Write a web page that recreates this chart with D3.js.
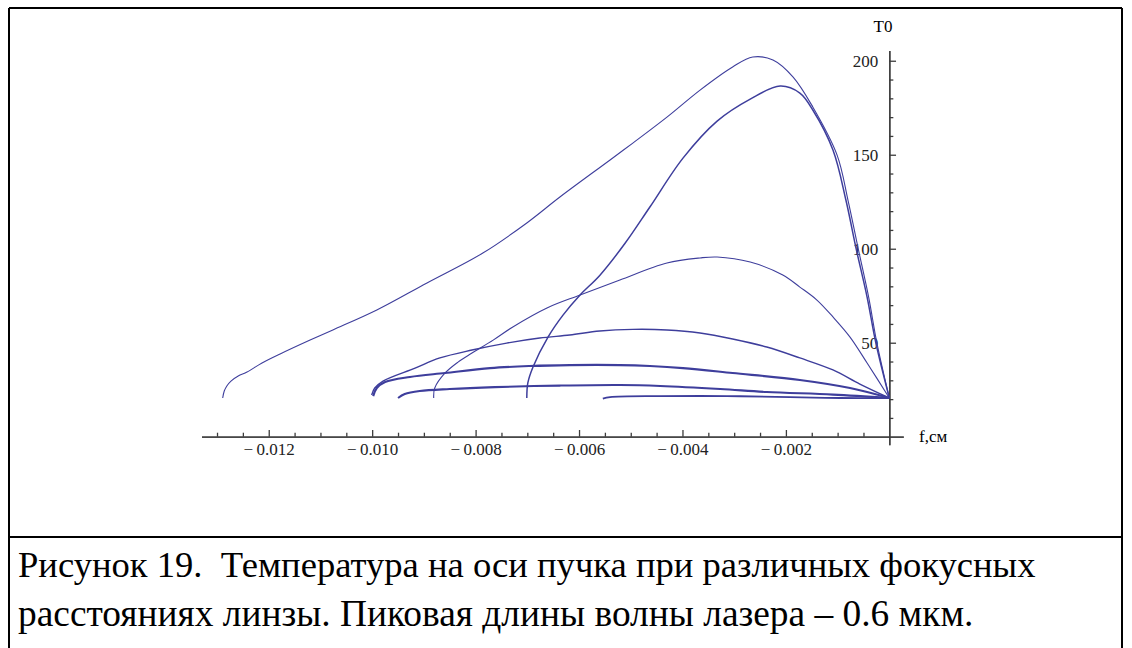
<!DOCTYPE html>
<html>
<head>
<meta charset="UTF-8">
<script src="https://cdn.jsdelivr.net/npm/d3@7"></script>
</head>
<body style="margin:0">
<script>
// значения: [f, см ; T0]
var curve1 = [[-0.01289,20.6],[-0.01286,24.3],[-0.01281,27.0],[-0.01273,29.6],[-0.01259,32.3],[-0.01242,34.4],
  [-0.01213,39.2],[-0.01178,44.0],[-0.01120,51.4],[-0.01076,56.8],[-0.00991,67.4],[-0.00894,81.8],[-0.00786,97.7],
  [-0.00701,113.7],[-0.00637,127.5],[-0.00540,147.2],[-0.00496,156.2],[-0.00430,170.0],[-0.00366,184.4],[-0.00303,196.7],
  [-0.00264,202.0],[-0.00225,200.4],[-0.00186,191.3],[-0.00148,175.4],[-0.00101,149.8],[-0.00080,125.9],[-0.00060,99.8],
  [-0.00040,74.3],[-0.00024,49.8],[0,20.6]];
var curve2 = [[-0.00701,20.6],[-0.00699,28.6],[-0.00689,37.1],[-0.00660,53.0],[-0.00631,64.7],[-0.00598,75.4],
  [-0.00560,85.8],[-0.00511,102.9],[-0.00463,122.2],[-0.00399,148.2],[-0.00333,167.9],[-0.00269,179.6],[-0.00211,186.5],
  [-0.00173,182.8],[-0.00148,173.8],[-0.00109,152.5],[-0.00084,125.9],[-0.00064,99.8],[-0.00043,74.3],[-0.00026,49.8],[0,20.6]];
var curve3 = [[-0.00881,20.6],[-0.00879,25.9],[-0.00859,33.9],[-0.00834,39.7],[-0.00807,44.5],[-0.00766,51.4],
  [-0.00728,58.4],[-0.00662,68.5],[-0.00598,75.4],[-0.00521,83.4],[-0.00430,92.4],[-0.00366,95.1],[-0.00333,95.6],
  [-0.00269,92.9],[-0.00206,86.0],[-0.00173,79.6],[-0.00140,72.7],[-0.00109,63.7],[-0.00076,53.0],[-0.00043,39.2],[0,20.6]];
var curve4 = [[-0.01001,22.2],[-0.00995,25.9],[-0.00979,29.6],[-0.00917,36.5],[-0.00869,41.9],[-0.00807,46.1],
  [-0.00740,49.8],[-0.00676,52.5],[-0.00618,54.1],[-0.00560,56.2],[-0.00496,57.1],[-0.00430,56.8],[-0.00366,55.2],
  [-0.00303,52.0],[-0.00237,47.7],[-0.00173,41.9],[-0.00109,35.5],[-0.00057,28.0],[0,20.6]];
var curve5 = [[-0.00998,21.6],[-0.00991,25.9],[-0.00975,29.1],[-0.00927,31.8],[-0.00859,33.9],[-0.00772,36.5],
  [-0.00695,37.6],[-0.00618,38.1],[-0.00521,38.1],[-0.00463,37.6],[-0.00399,36.5],[-0.00303,33.9],[-0.00173,30.2],
  [-0.00076,25.9],[0,20.6]];
var curve6 = [[-0.00950,20.6],[-0.00937,22.7],[-0.00908,24.3],[-0.00850,25.4],[-0.00763,26.4],[-0.00637,27.2],
  [-0.00521,27.5],[-0.00443,27.0],[-0.00327,25.4],[-0.00237,23.8],[-0.00109,22.4],[0,20.6]];
var curve7 = [[-0.00554,20.3],[-0.00540,21.1],[-0.00444,21.6],[-0.00314,21.6],[-0.00192,21.1],[-0.00095,20.6],[0,20.6]];

var curves = [curve1, curve2, curve3, curve4, curve5, curve6, curve7];
var curveWidths = [1.1, 1.5, 1.1, 1.4, 2.1, 2.1, 1.8];

var xMajor = [-0.012, -0.010, -0.008, -0.006, -0.004, -0.002];
var xLabels = ["\u2212\u20090.012", "\u2212\u20090.010", "\u2212\u20090.008", "\u2212\u20090.006", "\u2212\u20090.004", "\u2212\u20090.002"];
var yMajor = [50, 100, 150, 200];
var yLabels = ["50", "100", "150", "200"];

var captionLine1 = "Рисунок 19.\u00a0\u00a0Температура на оси пучка при различных фокусных";
var captionLine2 = "расстояниях линзы. Пиковая длины волны лазера – 0.6 мкм.";

var width = 1132, height = 648;
var fam = "Liberation Serif";

var svg = d3.select("body").append("svg")
  .attr("width", width)
  .attr("height", height)
  .style("font-family", fam);

// шкалы
var x = d3.scaleLinear().domain([-0.0133, 0.00027]).range([201.5, 903.3]);
var y = d3.scaleLinear().domain([-4.3, 205.5]).range([444.8, 50.4]);

// рамка таблицы
svg.append("g").attr("stroke", "#000").attr("stroke-width", 2)
  .selectAll("line")
  .data([[9, 8, 1122, 8], [9, 537, 1122, 537], [9, 8, 9, 648], [1122, 8, 1122, 648]])
  .enter().append("line")
  .attr("x1", function(d){ return d[0]; })
  .attr("y1", function(d){ return d[1]; })
  .attr("x2", function(d){ return d[2]; })
  .attr("y2", function(d){ return d[3]; });

// мелкие деления
var xMinor = d3.range(-0.013, -0.0004, 0.0005).filter(function(v){
  return !xMajor.some(function(m){ return Math.abs(m - v) < 1e-7; });
});
var yMinor = d3.range(10, 200, 10).filter(function(v){ return v % 50 !== 0; });

function styleAxis(g){
  g.attr("font-family", null).attr("font-size", null);
  g.selectAll("path, line").attr("stroke", "#3c3c3c").attr("stroke-width", 1.3);
  g.selectAll("text").style("font-family", fam).style("font-size", "17px").attr("fill", "#222");
}

svg.append("g")
  .attr("transform", "translate(0," + y(0) + ")")
  .call(d3.axisBottom(x).tickValues(xMinor).tickSizeInner(-4).tickSizeOuter(0).tickFormat(""))
  .call(styleAxis);

svg.append("g")
  .attr("transform", "translate(0," + y(0) + ")")
  .call(d3.axisBottom(x).tickValues(xMajor).tickSizeInner(-6.7).tickSizeOuter(0).tickPadding(6)
    .tickFormat(function(d, i){ return xLabels[i]; }))
  .call(styleAxis);

svg.append("g")
  .attr("transform", "translate(" + x(0) + ",0)")
  .call(d3.axisLeft(y).tickValues(yMinor).tickSizeInner(-4).tickSizeOuter(0).tickFormat(""))
  .call(styleAxis);

svg.append("g")
  .attr("transform", "translate(" + x(0) + ",0)")
  .call(d3.axisLeft(y).tickValues(yMajor).tickSizeInner(-6.7).tickSizeOuter(0).tickPadding(11)
    .tickFormat(function(d, i){ return yLabels[i]; }))
  .call(styleAxis);

// подписи осей
svg.append("text")
  .attr("x", 883).attr("y", 32)
  .attr("text-anchor", "middle")
  .style("font-family", fam).style("font-size", "17px")
  .text("T0");
svg.append("text")
  .attr("x", 919).attr("y", 442)
  .style("font-family", fam).style("font-size", "17px")
  .text("f,см");

// кривые
var line = d3.line()
  .x(function(d){ return x(d[0]); })
  .y(function(d){ return y(d[1]); })
  .curve(d3.curveCatmullRom.alpha(0.5));

svg.append("g")
  .selectAll("path")
  .data(curves)
  .enter().append("path")
  .attr("fill", "none")
  .attr("stroke", "#3e3e9c")
  .attr("stroke-linejoin", "round")
  .attr("stroke-width", function(d, i){ return curveWidths[i]; })
  .attr("d", line);

// подпись к рисунку: размер шрифта подгоняется под ширину строки
function caption(text, yPos, targetW){
  var t = svg.append("text")
    .attr("x", 18).attr("y", yPos)
    .style("font-family", fam).style("font-size", "36px")
    .text(text);
  var w = t.node().getComputedTextLength();
  t.style("font-size", (36 * targetW / w).toFixed(1) + "px");
  return t;
}
caption(captionLine1, 577, 1017);
caption(captionLine2, 626, 955);
</script>
</body>
</html>
